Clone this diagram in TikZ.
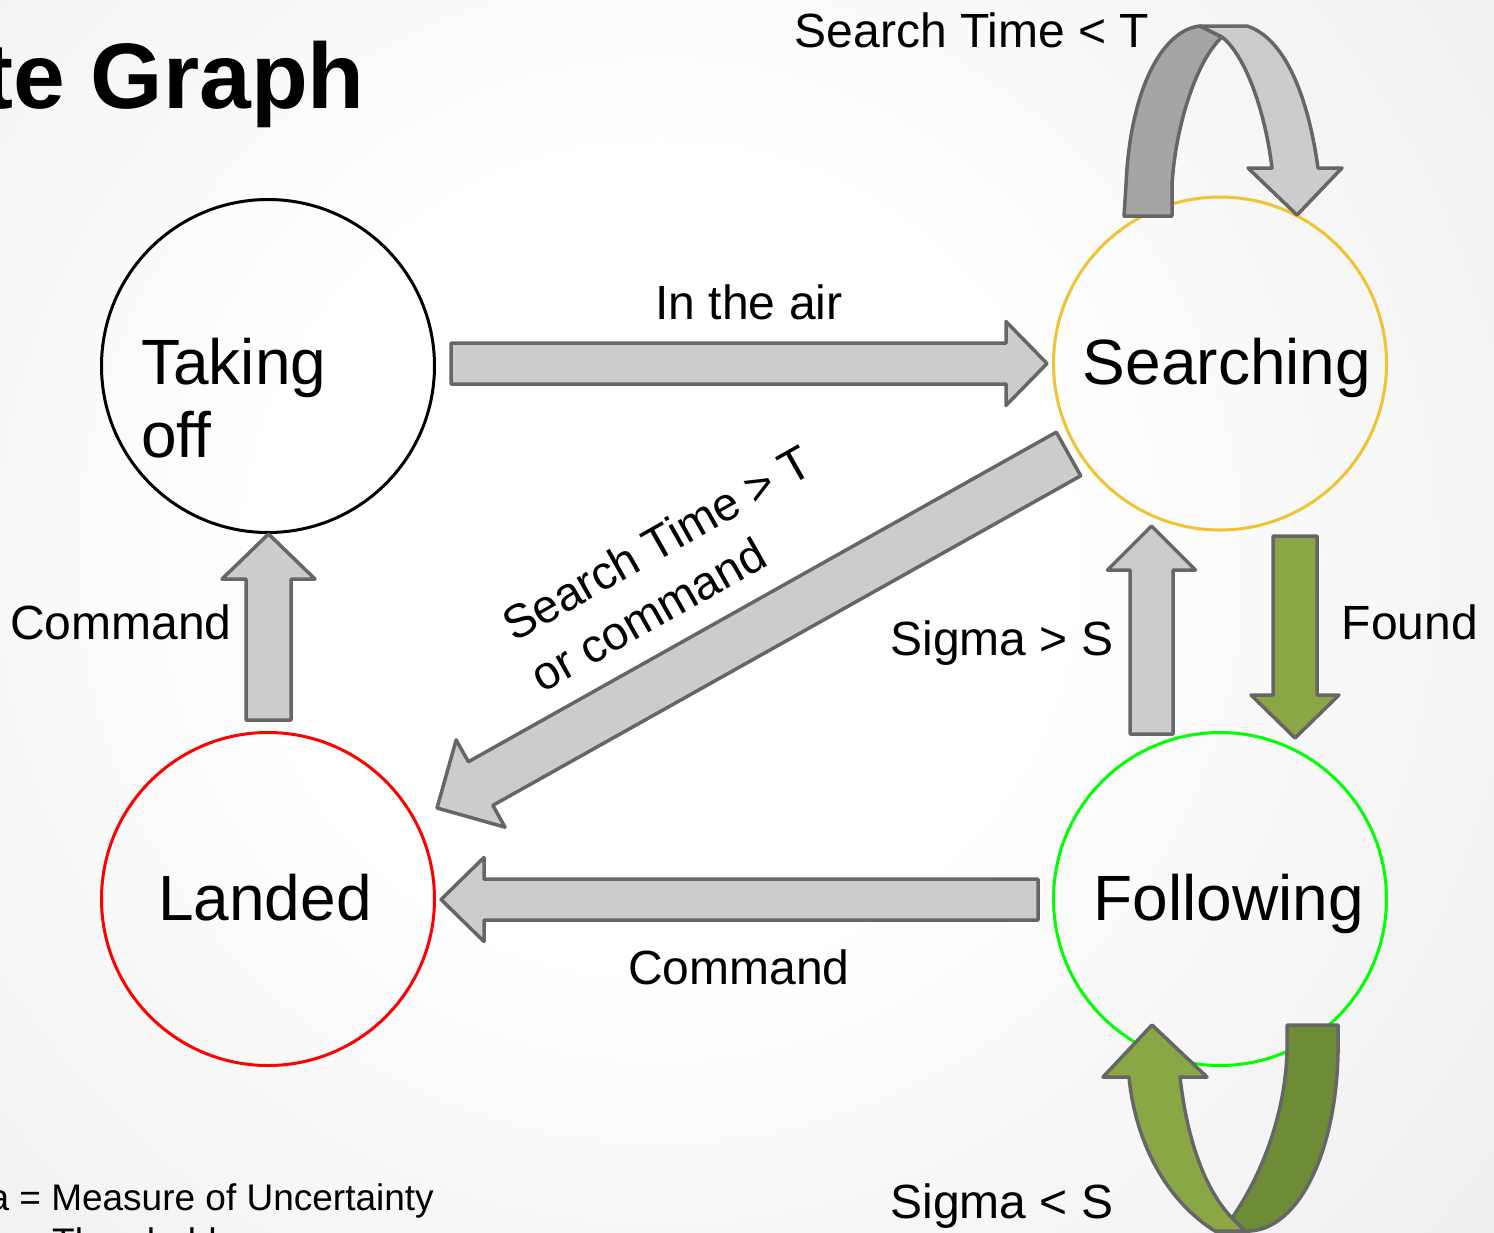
\documentclass[tikz,border=0pt]{standalone}
\usepackage{fontspec}
\setmainfont{Liberation Sans}
\usetikzlibrary{calc}
\definecolor{bgB}{HTML}{EBEBEB}
\definecolor{bgC}{HTML}{D5D5D5}
\definecolor{bgD}{HTML}{CDCDCD}
\definecolor{arrfill}{HTML}{CCCCCC}
\definecolor{arrdark}{HTML}{A5A5A5}
\definecolor{arrline}{HTML}{666666}
\definecolor{grn}{HTML}{8BA644}
\definecolor{grndark}{HTML}{6E8B35}
\definecolor{orng}{HTML}{F1C232}
\pgfdeclareradialshading{bgshade}{\pgfpoint{0bp}{0bp}}{color(0bp)=(white); color(8bp)=(white); color(24bp)=(bgB); color(40bp)=(bgC); color(50bp)=(bgD)}
\tikzset{
  state/.style={circle, minimum size=333pt, inner sep=0pt, line width=3pt},
  statetext/.style={font=\fontsize{64}{73}\selectfont, anchor=base, inner sep=0pt},
  lbl/.style={font=\fontsize{48}{58}\selectfont, anchor=base, inner sep=0pt},
  blk/.style={fill=arrfill, draw=arrline, line width=3.5pt, line join=round},
  blkgreen/.style={blk, fill=grn},
}
% #1 style, #2 tail, #3 tip, #4 shaft half width, #5 head length, #6 head half width
\newcommand{\blockarrow}[6][blk]{%
  \coordinate (#2-base) at ($(#3)!#5!(#2)$);
  \draw[#1] ($(#2)!#4!90:(#3)$) -- ($(#2-base)!#4!90:(#3)$) -- ($(#2-base)!#6!90:(#3)$) -- (#3)
    -- ($(#2-base)!#6!-90:(#3)$) -- ($(#2-base)!#4!-90:(#3)$) -- ($(#2)!#4!-90:(#3)$) -- cycle;
}
\begin{document}
\begin{tikzpicture}[x=1pt,y=-1pt]
\useasboundingbox (0,0) rectangle (1494,1232);
\clip (0,0) rectangle (1494,1232);
\shade[shading=bgshade] (660,560) circle[radius=1250pt];

% states
\node[state, draw=black] (to) at (268,366) {};
\node[state, draw=orng] (se) at (1220,363.5) {};
\node[state, draw=red] (la) at (268,899) {};
\node[state, draw=green] (fo) at (1220,899) {};

\node[font=\fontsize{64}{73}\selectfont, anchor=north west, align=left, inner sep=0pt] (tot) at (141,338) {Taking\\off};
\node[statetext] (set) at (1227,384) {Searching};
\node[statetext] (lat) at (265,920) {Landed};
\node[statetext] (fot) at (1229,920) {Following};

% connector end points
\coordinate (a1s) at (451,363.5);   \coordinate (a1e) at (1047,363.5);
\coordinate (a2s) at (1038,899.5);  \coordinate (a2e) at (441,899.5);
\coordinate (a3s) at (268.5,720);   \coordinate (a3e) at (268.5,534);
\coordinate (a4s) at (1151.5,734);  \coordinate (a4e) at (1151.5,526);
\coordinate (a5s) at (1295,536);    \coordinate (a5e) at (1295,738);
\coordinate (a6s) at (1068.5,454);  \coordinate (a6e) at (437,808);

\blockarrow{a1s}{a1e}{20.5pt}{41pt}{42pt}
\blockarrow{a2s}{a2e}{20.5pt}{43pt}{42pt}
\blockarrow{a3s}{a3e}{22.5pt}{45pt}{46.5pt}
\blockarrow{a4s}{a4e}{21.5pt}{44pt}{44pt}
\blockarrow[blkgreen]{a5s}{a5e}{22pt}{43pt}{44pt}
\blockarrow{a6s}{a6e}{25pt}{50pt}{50pt}

% self loop on Searching
\draw[blk, fill=arrdark] (1124,216) -- (1126,185) .. controls (1130,90) and (1162,30) .. (1200,26)
  -- (1222,37) .. controls (1195,62) and (1175,130) .. (1172,185) -- (1172,216) -- cycle;
\draw[blk] (1200,26) -- (1247,26) .. controls (1290,40) and (1310,110) .. (1318,168)
  -- (1342,168) -- (1297,215) -- (1248,168) -- (1272,168)
  .. controls (1265,110) and (1245,55) .. (1222,37) -- cycle;

% self loop on Following
\draw[blk, fill=grndark] (1287,1025) -- (1338,1025) -- (1338,1053)
  .. controls (1336,1150) and (1300,1228) .. (1250,1231) -- (1245,1231) -- (1232,1218)
  .. controls (1265,1170) and (1285,1110) .. (1287,1053) -- cycle;
\draw[blkgreen] (1103,1077) -- (1152,1025) -- (1207,1077) -- (1180,1077)
  .. controls (1187,1140) and (1205,1190) .. (1232,1218) -- (1245,1231) -- (1215,1231)
  .. controls (1165,1200) and (1135,1140) .. (1129,1077) -- cycle;

% labels
\node[lbl] (l1) at (749,319) {In the air};
\node[lbl] (l2) at (121,639) {Command};
\node[lbl] (l3) at (739,984) {Command};
\node[lbl] (l4) at (1002,655) {Sigma > S};
\node[lbl] (l5) at (1410,639) {Found};
\node[lbl] (l6) at (972,47) {Search Time < T};
\node[lbl] (l7) at (1002,1218) {Sigma < S};
\node[font=\fontsize{47}{58}\selectfont, align=left, rotate=29.5, inner sep=0pt] (l8) at (671,568) {Search Time > T\\or command};

% title and notes
\node[font=\fontsize{93}{100}\selectfont\bfseries, anchor=base east, inner sep=0pt] (title) at (365,108) {te Graph};
\node[font=\fontsize{37}{41}\selectfont, anchor=base east, inner sep=0pt] (n1) at (434,1210) {a = Measure of Uncertainty};
\node[font=\fontsize{37}{41}\selectfont, anchor=base west, inner sep=0pt] (n2) at (52,1254) {Threshold};
\end{tikzpicture}
\end{document}
